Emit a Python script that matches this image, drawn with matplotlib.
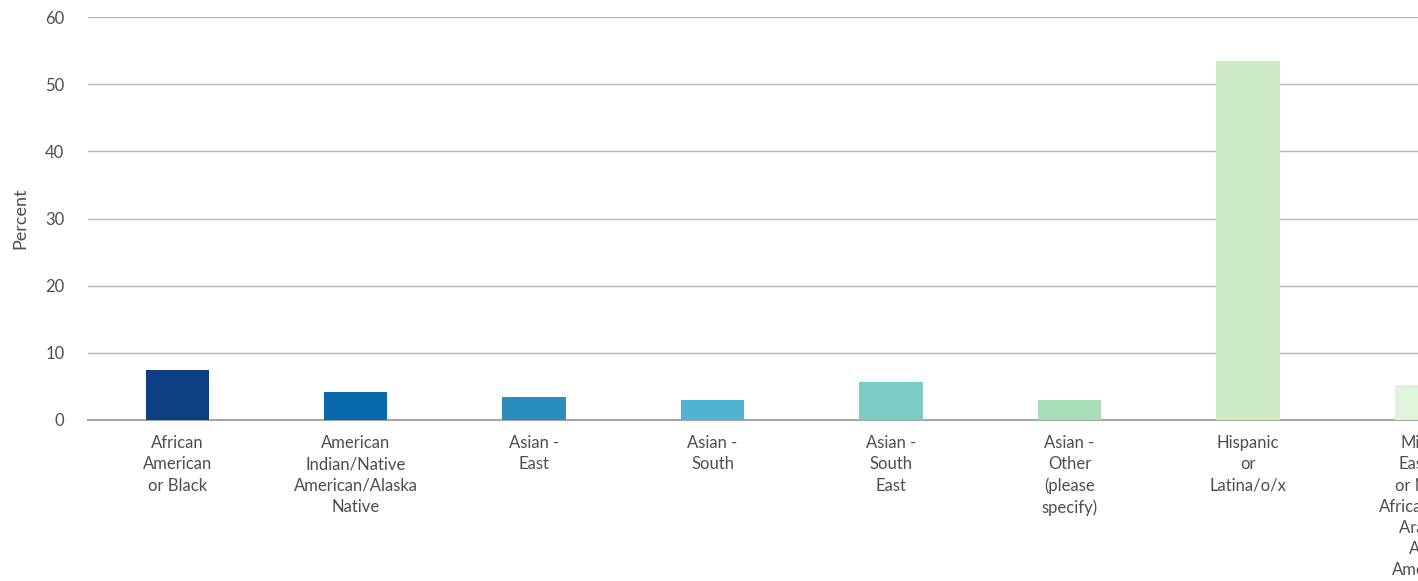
import matplotlib.pyplot as plt

# Data
categories = [
    'African\nAmerican\nor Black',
    'American\nIndian/Native\nAmerican/Alaska\nNative',
    'Asian -\nEast',
    'Asian -\nSouth',
    'Asian -\nSouth\nEast',
    'Asian -\nOther\n(please\nspecify)',
    'Hispanic\nor\nLatina/o/x',
    'Middle\nEastern\nor North\nAfrican/Arab\nArab or\nArab\nAmerican',
]
percent = [7.5, 4.2, 3.4, 3.0, 5.7, 3.0, 53.5, 5.2]
colors = ['#0b3f80', '#0868ac', '#2b8cbe', '#4eb3d3',
          '#7bccc4', '#a8ddb5', '#ccebc5', '#e0f3db']

plt.rcParams['font.family'] = ['Lato', 'DejaVu Sans']
text_color = '#4a4f55'

fig = plt.figure(figsize=(14.18, 5.81), dpi=100)
W, H = 1418, 581
# axes reaches past the right edge, so the last bar is cut off like the original
ax = fig.add_axes([88 / W, (H - 420) / H, (1515.5 - 88) / W, (420 - 17) / H])

x = list(range(len(categories)))
ax.bar(x, percent, width=0.355, color=colors, zorder=3)

ax.set_xlim(-0.5, 7.5)
ax.set_ylim(0, 60)
ax.set_yticks(range(0, 61, 10))
ax.set_xticks(x)
ax.set_xticklabels(categories, fontsize=12, color=text_color, linespacing=1.4)
ax.tick_params(axis='y', labelsize=12, labelcolor=text_color, length=0, pad=17)
ax.tick_params(axis='x', length=0, pad=11)

ax.grid(axis='y', color='#b3b3b3', linewidth=1, zorder=0)
for side in ['top', 'right', 'left']:
    ax.spines[side].set_visible(False)
ax.spines['bottom'].set_color('#a6a6a6')
ax.spines['bottom'].set_linewidth(1.5)

ax.set_ylabel('Percent', fontsize=13, color=text_color, labelpad=12)

plt.savefig('out.png', dpi=100)
